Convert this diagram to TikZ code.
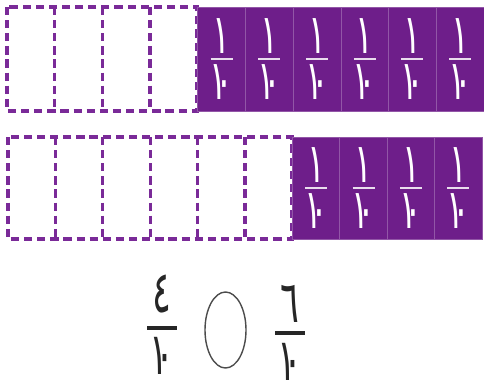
\documentclass[tikz,border=0pt]{standalone}
\usepackage{graphicx}
\usepackage{fontspec}
\newfontfamily\arabicfont[Script=Arabic]{DejaVu Sans}
\usetikzlibrary{positioning,shapes.geometric}
\definecolor{tilepurple}{RGB}{110,30,138}
\definecolor{dashpurple}{RGB}{122,42,152}
\tikzset{
  tile/.style      = {fill=tilepurple, draw=tilepurple!75!white, line width=0.6pt},
  dashbox/.style   = {draw=dashpurple, line width=2.8pt, dash pattern=on 7pt off 4.2pt},
  tilebar/.style   = {draw=white!85!tilepurple, line width=2.2pt},
  tiledigit/.style = {text=white, inner sep=0pt, font=\arabicfont\fontsize{47}{47}\selectfont},
  fracdigit/.style = {text=black!85, inner sep=0pt, font=\arabicfont\fontsize{50}{50}\selectfont},
  fracbar/.style   = {draw=black!85, line width=2.6pt},
  cmpring/.style   = {ellipse, draw=black!70, line width=1.2pt,
                      minimum width=1.23cm, minimum height=2.28cm, inner sep=0pt},
}
% narrow, tall numerals
\newcommand{\slim}[1]{\scalebox{0.6}[1]{#1}}
\newcommand{\tenth}{\slim{١\kern-.36em٠}}

\begin{document}
\begin{tikzpicture}[x=0.03cm,y=-0.03cm]
  \useasboundingbox (0,0) rectangle (484,388);

  % ---------------- top strip: six tenths ---------------------------------
  \draw[dashbox] (7,7) rectangle (197,111);
  \foreach \i in {1,2,3}
    \draw[dashbox] (7+\i*47.7,7) -- (7+\i*47.7,111);
  \foreach \i in {4,...,9} {
    \draw[tile] (7+\i*47.7,7) rectangle (7+\i*47.7+47.7,111);
    \coordinate (ta\i) at (7+\i*47.7+23.85,59);
    \draw[tilebar] ([xshift=-0.33cm]ta\i) -- ([xshift=0.33cm]ta\i);
    \node[tiledigit, above=0.15cm of ta\i] (tn\i) {\slim{١}};
    \node[tiledigit, below=0.17cm of ta\i] (td\i) {\tenth};
  }

  % ---------------- bottom strip: four tenths -----------------------------
  \draw[dashbox] (8,137) rectangle (292,239);
  \foreach \i in {1,...,5}
    \draw[dashbox] (8+\i*47.4,137) -- (8+\i*47.4,239);
  \foreach \i in {6,...,9} {
    \draw[tile] (8+\i*47.4,137) rectangle (8+\i*47.4+47.4,239);
    \coordinate (ba\i) at (8+\i*47.4+23.7,188);
    \draw[tilebar] ([xshift=-0.33cm]ba\i) -- ([xshift=0.33cm]ba\i);
    \node[tiledigit, above=0.15cm of ba\i] (bn\i) {\slim{١}};
    \node[tiledigit, below=0.17cm of ba\i] (bd\i) {\tenth};
  }

  % ---------------- compare the two fractions -----------------------------
  \coordinate (lbar) at (162,328);
  \draw[fracbar] ([xshift=-0.45cm]lbar) -- ([xshift=0.45cm]lbar);
  \node[fracdigit, above=0.45cm of lbar] (lnum) {\slim{٤}};
  \node[fracdigit, below=0.27cm of lbar] (lden) {\tenth};

  \node[cmpring] (cmp) at (225.5,330) {};

  \coordinate (rbar) at (290,333);
  \draw[fracbar] ([xshift=-0.45cm]rbar) -- ([xshift=0.45cm]rbar);
  \node[fracdigit, above=0.3cm of rbar] (rnum) {\slim{٦}};
  \node[fracdigit, below=0.3cm of rbar] (rden) {\tenth};
\end{tikzpicture}
\end{document}
